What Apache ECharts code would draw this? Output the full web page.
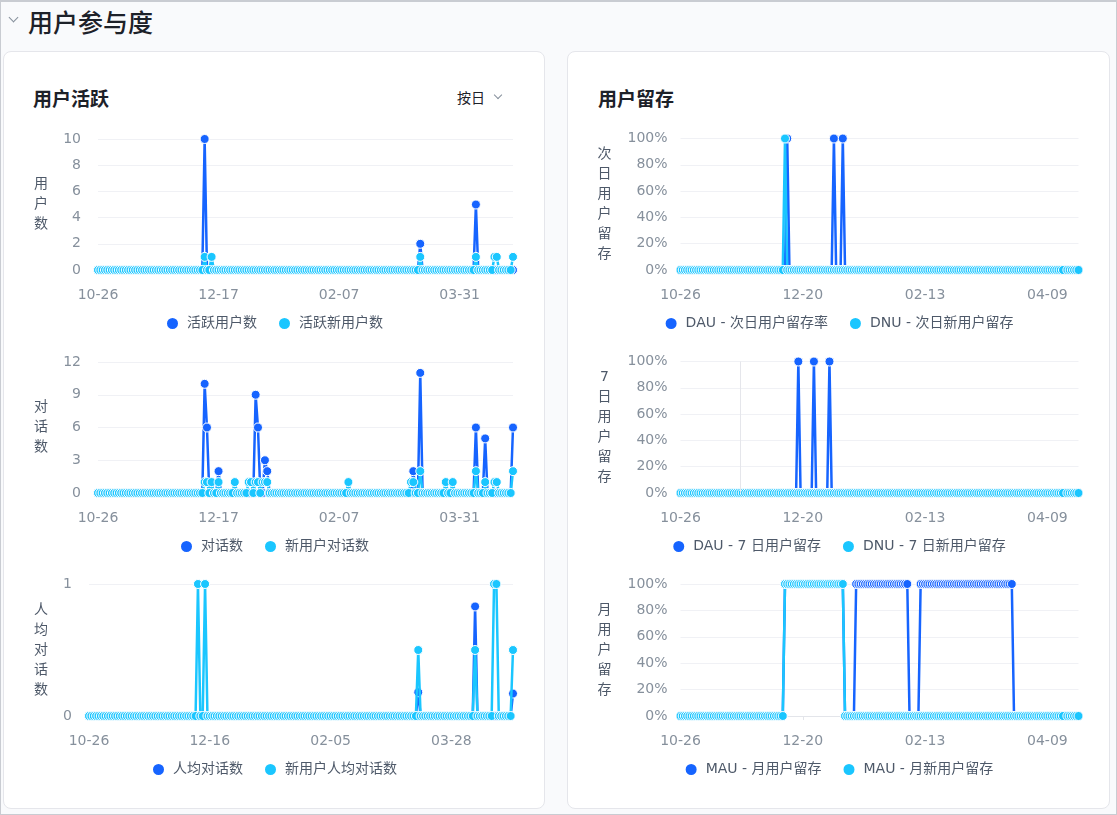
<!DOCTYPE html>
<html lang="zh">
<head>
<meta charset="utf-8">
<title>用户参与度</title>
<script src="https://cdn.jsdelivr.net/npm/echarts@6/dist/echarts.min.js"></script>
<style>
  html, body { margin: 0; padding: 0; }
  body {
    width: 1117px; height: 815px; position: relative; overflow: hidden;
    background: #f9fafc; color: #1d2129;
    font-family: 'Noto Sans CJK SC', sans-serif;
  }
  .frame { position: absolute; left: 0; top: 0; width: 1117px; height: 815px; box-sizing: border-box;
           border: 1px solid #c9ccd2; border-top-width: 2px; pointer-events: none; }
  .head { position: absolute; left: 28px; top: 4px; font-size: 25px; font-weight: 500; line-height: 34px; }
  .arrow { position: absolute; width: 6px; height: 6px; border-right: 1.5px solid #86909c;
           border-bottom: 1.5px solid #86909c; transform: rotate(45deg); }
  .card { position: absolute; top: 51px; height: 758px; background: #fff; border: 1px solid #e5e6eb;
          border-radius: 8px; box-sizing: border-box; }
  .card-title { position: absolute; top: 85px; font-size: 19px; font-weight: 600; line-height: 26px; }
  .pick { position: absolute; left: 457px; top: 87px; font-size: 14px; line-height: 20px; }
  .chart { position: absolute; height: 223px; }
</style>
</head>
<body>
<div class="head">用户参与度</div>
<div class="arrow" style="left:10px;top:14px"></div>

<div class="card" style="left:3px;width:542px"></div>
<div class="card" style="left:567px;width:543px"></div>
<div class="card-title" style="left:33px">用户活跃</div>
<div class="pick">按日</div>
<div class="arrow" style="left:495px;top:92px;width:5px;height:5px;border-width:0 1.2px 1.2px 0"></div>
<div class="card-title" style="left:598px">用户留存</div>

<div id="c1" class="chart" style="left:3px;top:120px;width:542px"></div>
<div id="c2" class="chart" style="left:3px;top:343px;width:542px"></div>
<div id="c3" class="chart" style="left:3px;top:566px;width:542px"></div>
<div id="c4" class="chart" style="left:567px;top:120px;width:543px"></div>
<div id="c5" class="chart" style="left:567px;top:343px;width:543px"></div>
<div id="c6" class="chart" style="left:567px;top:566px;width:543px"></div>
<div class="frame"></div>

<script>
// 日期轴：2024-10-26 ~ 2025-04-23，共 180 天
const dates = []
for (let i = 0; i < 180; i++) {
  const d = new Date(2024, 9, 26 + i)
  dates.push(String(d.getMonth() + 1).padStart(2, '0') + '-' + String(d.getDate()).padStart(2, '0'))
}

// 只列出不在 0 线上的日子，其余每天都是 0
// [日期, 值] 或 [起始日期, 结束日期, 值]
const activeUsers = [['12-11', 10], ['03-14', 2], ['04-07', 5]]
const activeNewUsers = [['12-11', 1], ['12-14', 1], ['03-14', 1], ['04-07', 1], ['04-15', 1], ['04-16', 1], ['04-23', 1]]

const chats = [['12-11', 10], ['12-12', 6], ['12-17', 2], ['01-02', 9], ['01-03', 6], ['01-06', 3], ['01-07', 2],
  ['03-11', 2], ['03-14', 11], ['04-07', 6], ['04-11', 5], ['04-23', 6]]
const newUserChats = [['12-11', 1], ['12-12', 1], ['12-14', 1], ['12-17', 1], ['12-24', 1], ['12-30', 1],
  ['12-31', 1], ['01-02', 1], ['01-03', 1], ['01-05', 1], ['01-06', 1], ['01-07', 1], ['02-11', 1],
  ['03-10', 1], ['03-11', 1], ['03-14', 2], ['03-25', 1], ['03-28', 1], ['04-07', 2], ['04-11', 1],
  ['04-15', 1], ['04-16', 1], ['04-23', 2]]

const chatsPerUser = [['03-14', 0.18], ['04-07', 0.83], ['04-23', 0.17]]
const chatsPerNewUser = [['12-11', 1], ['12-14', 1], ['03-14', 0.5], ['04-07', 0.5], ['04-15', 1], ['04-16', 1], ['04-23', 0.5]]

// 留存 (%)
const dauNextDay = [['12-13', 100], ['01-03', 100], ['01-07', 100]]
const dnuNextDay = [['12-12', 100]]
const dau7Day = [['12-18', 100], ['12-25', 100], ['01-01', 100]]
const dnu7Day = []
const mauMonth = [['12-12', '01-07', 100], ['01-13', '02-05', 100], ['02-11', '03-24', 100]]
const mauNewMonth = [['12-12', '01-07', 100]]
const newUserGaps = ['04-17'] // 新用户留存这一天没有值
const hoverDay = '11-22' // 7 日留存图上的竖线

const FONT = "'DejaVu Sans', 'Noto Sans CJK SC', sans-serif"

function toSeries(entries, gaps) {
  return dates.map((d, i) => {
    if (gaps && gaps.includes(d)) return null
    let v = 0
    entries.forEach(e => {
      if (e.length === 2 && e[0] === d) v = e[1]
      if (e.length === 3 && i >= dates.indexOf(e[0]) && i <= dates.indexOf(e[1])) v = e[2]
    })
    return v
  })
}

function drawChart(id, cfg) {
  const chart = echarts.init(document.getElementById(id))
  const option = {
    animation: false,
    color: ['#1664ff', '#1ac6ff'],
    textStyle: { fontFamily: FONT },
    grid: Object.assign({ right: 32, top: 19, height: 131, containLabel: false, outerBoundsMode: 'none' }, cfg.grid),
    legend: {
      top: 191, left: 'center', icon: 'circle', itemWidth: 13, itemHeight: 13, itemGap: 20,
      textStyle: { fontSize: 14, color: '#4e5969', padding: [0, 0, 0, 3], fontFamily: FONT }
    },
    xAxis: {
      type: 'category', boundaryGap: false, data: dates,
      axisLine: { lineStyle: { color: '#e3e5ea' } },
      axisTick: { show: true, interval: cfg.every, length: 4, lineStyle: { color: '#e3e5ea' } },
      axisLabel: { interval: cfg.every, color: '#86909c', fontSize: 14, margin: 18 }
    },
    yAxis: {
      type: 'value', min: 0, max: cfg.max, interval: cfg.interval,
      name: cfg.yName.split('').join('\n'), nameLocation: 'middle', nameRotate: 0, nameGap: cfg.nameGap,
      nameTextStyle: { color: '#4e5969', fontSize: 14, lineHeight: 20, align: 'center', fontFamily: FONT },
      axisLine: { show: false }, axisTick: { show: false },
      splitLine: { lineStyle: { color: '#f0f1f5' } },
      axisLabel: {
        color: '#86909c', fontSize: 14, margin: cfg.labelGap,
        formatter: cfg.percent ? '{value}%' : '{value}'
      }
    },
    series: cfg.series.map((s, k) => ({
      name: s.name, type: 'line', data: s.data,
      symbol: 'circle', symbolSize: 9, showAllSymbol: true,
      lineStyle: { width: 2.5 },
      itemStyle: { borderColor: '#fff', borderWidth: 1 },
      emphasis: { disabled: true },
      z: 2 + k
    }))
  }
  if (cfg.markDay) {
    option.series[0].markLine = {
      silent: true, symbol: 'none', label: { show: false },
      lineStyle: { color: '#e5e6eb', type: 'solid', width: 1 },
      data: [{ xAxis: cfg.markDay }]
    }
  }
  chart.setOption(option)
}

drawChart('c1', {
  grid: { left: 95 }, yName: '用户数', nameGap: 57, labelGap: 17, max: 10, interval: 2, every: 51,
  series: [{ name: '活跃用户数', data: toSeries(activeUsers) }, { name: '活跃新用户数', data: toSeries(activeNewUsers) }]
})
drawChart('c2', {
  grid: { left: 95 }, yName: '对话数', nameGap: 57, labelGap: 17, max: 12, interval: 3, every: 51,
  series: [{ name: '对话数', data: toSeries(chats) }, { name: '新用户对话数', data: toSeries(newUserChats) }]
})
drawChart('c3', {
  grid: { left: 86, top: 18, height: 132 }, yName: '人均对话数', nameGap: 48, labelGap: 17, max: 1, interval: 1, every: 50,
  series: [{ name: '人均对话数', data: toSeries(chatsPerUser) }, { name: '新用户人均对话数', data: toSeries(chatsPerNewUser) }]
})
drawChart('c4', {
  grid: { left: 113.5, right: 31.5, top: 18.5, height: 131.5 }, yName: '次日用户留存', nameGap: 76, labelGap: 13,
  max: 100, interval: 20, every: 54, percent: true,
  series: [{ name: 'DAU - 次日用户留存率', data: toSeries(dauNextDay) },
    { name: 'DNU - 次日新用户留存', data: toSeries(dnuNextDay, newUserGaps) }]
})
drawChart('c5', {
  grid: { left: 113.5, right: 31.5, top: 18.5, height: 131.5 }, yName: '7日用户留存', nameGap: 76, labelGap: 13,
  max: 100, interval: 20, every: 54, percent: true, markDay: hoverDay,
  series: [{ name: 'DAU - 7 日用户留存', data: toSeries(dau7Day) },
    { name: 'DNU - 7 日新用户留存', data: toSeries(dnu7Day, newUserGaps) }]
})
drawChart('c6', {
  grid: { left: 113.5, right: 31.5, top: 18, height: 132 }, yName: '月用户留存', nameGap: 76, labelGap: 13,
  max: 100, interval: 20, every: 54, percent: true,
  series: [{ name: 'MAU - 月用户留存', data: toSeries(mauMonth) },
    { name: 'MAU - 月新用户留存', data: toSeries(mauNewMonth, newUserGaps) }]
})
</script>
</body>
</html>
